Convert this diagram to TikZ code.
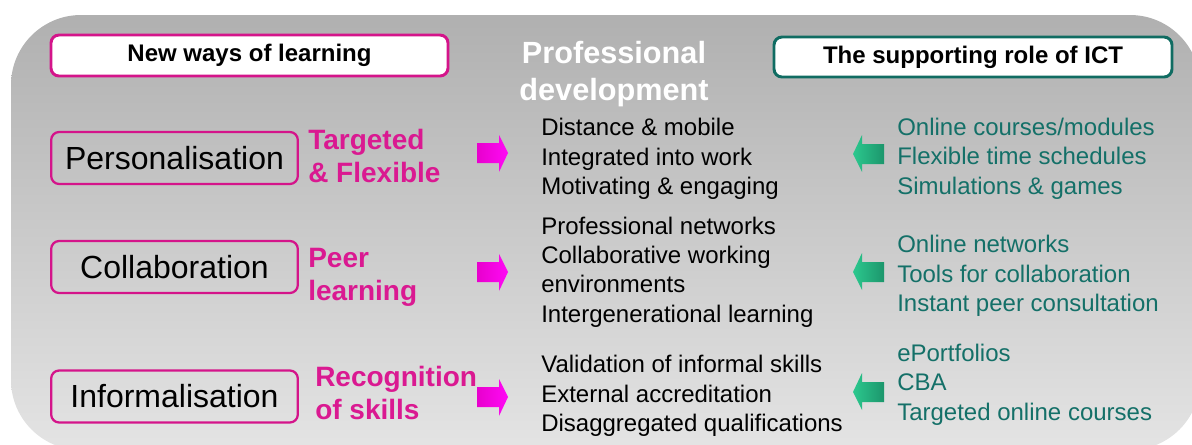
\documentclass[tikz,border=0pt]{standalone}
\usepackage{fontspec}
\setmainfont{Liberation Sans}
\definecolor{bgtop}{RGB}{176,176,176}
\definecolor{bgbot}{RGB}{228,228,228}
\definecolor{mag}{RGB}{212,20,138}
\definecolor{magtxt}{RGB}{218,25,145}
\definecolor{tealb}{RGB}{16,108,98}
\definecolor{tealtxt}{RGB}{20,112,104}
\definecolor{arrm1}{RGB}{232,0,205}
\definecolor{arrm2}{RGB}{255,10,245}
\definecolor{arrg1}{RGB}{44,200,142}
\definecolor{arrg2}{RGB}{28,150,108}
\tikzset{
  hdrbox/.style={draw, line width=2.2pt, rounded corners=6pt, fill=white, inner sep=0pt,
    font=\fontsize{18}{21}\selectfont\bfseries},
  rowbox/.style={draw=mag, line width=1.7pt, rounded corners=6pt, inner sep=0pt,
    minimum width=185pt, minimum height=39pt, font=\fontsize{24}{28}\selectfont},
  maglabel/.style={anchor=west, align=left, inner sep=0pt, text=magtxt,
    font=\fontsize{21}{24.75}\selectfont\bfseries},
  midlist/.style={anchor=west, align=left, inner sep=0pt, text=black,
    font=\fontsize{18}{22.1}\selectfont},
  ictlist/.style={anchor=west, align=left, inner sep=0pt, text=tealtxt,
    font=\fontsize{18}{22.1}\selectfont},
  marrowfill/.style={left color=arrm1, right color=arrm2},
  garrowfill/.style={left color=arrg1, right color=arrg2},
}
\begin{document}
\begin{tikzpicture}[x=0.75pt,y=-0.75pt]
\useasboundingbox (0,0) rectangle (1192,444);
% background panel
\shade[top color=bgtop, bottom color=bgbot, rounded corners=52.5pt] (11,15) rectangle (1200,450);

% header boxes
\node[hdrbox, draw=mag, minimum width=297.75pt, minimum height=30.75pt] (hleft) at (249.5,55.5) {New ways of learning};
\node[hdrbox, draw=tealb, minimum width=298.5pt, minimum height=30pt] (hright) at (973,57) {The supporting role of ICT};
\node[align=center, inner sep=0pt, text=white, font=\fontsize{23}{27.75}\selectfont\bfseries] (pd) at (614,74) {Professional\\development};

% row boxes
\node[rowbox] (pers) at (174.5,158) {Personalisation};
\node[rowbox] (coll) at (174.5,267) {Collaboration};
\node[rowbox] (info) at (174.5,396.5) {Informalisation};

% magenta labels
\node[maglabel] (l1) at (308,156) {Targeted\\\& Flexible};
\node[maglabel] (l2) at (308,277) {Peer\\learning};
\node[maglabel] (l3) at (315,393) {Recognition\\of skills};

% magenta arrows
\foreach \y in {153,272,397}{
  \shade[marrowfill] (477,\y-10) -- (499,\y-10) -- (499,\y-18) -- (508,\y) -- (499,\y+19) -- (499,\y+10) -- (477,\y+10) -- cycle;
}

% middle lists
\node[midlist] (m1) at (541,159) {Distance \& mobile\\Integrated into work\\Motivating \& engaging};
\node[midlist] (m2) at (541,272) {Professional networks\\Collaborative working\\environments\\Intergenerational learning};
\node[midlist] (m3) at (541,396) {Validation of informal skills\\External accreditation\\Disaggregated qualifications};

% green arrows
\foreach \y in {154,272,392}{
  \shade[garrowfill] (884,\y-10) -- (862,\y-10) -- (862,\y-19) -- (853,\y) -- (862,\y+18) -- (862,\y+10) -- (884,\y+10) -- cycle;
}

% ICT lists
\node[ictlist] (r1) at (897,158.5) {Online courses/modules\\Flexible time schedules\\Simulations \& games};
\node[ictlist] (r2) at (897,276) {Online networks\\Tools for collaboration\\Instant peer consultation};
\node[ictlist] (r3) at (897,384.5) {ePortfolios\\CBA\\Targeted online courses};
\end{tikzpicture}
\end{document}
